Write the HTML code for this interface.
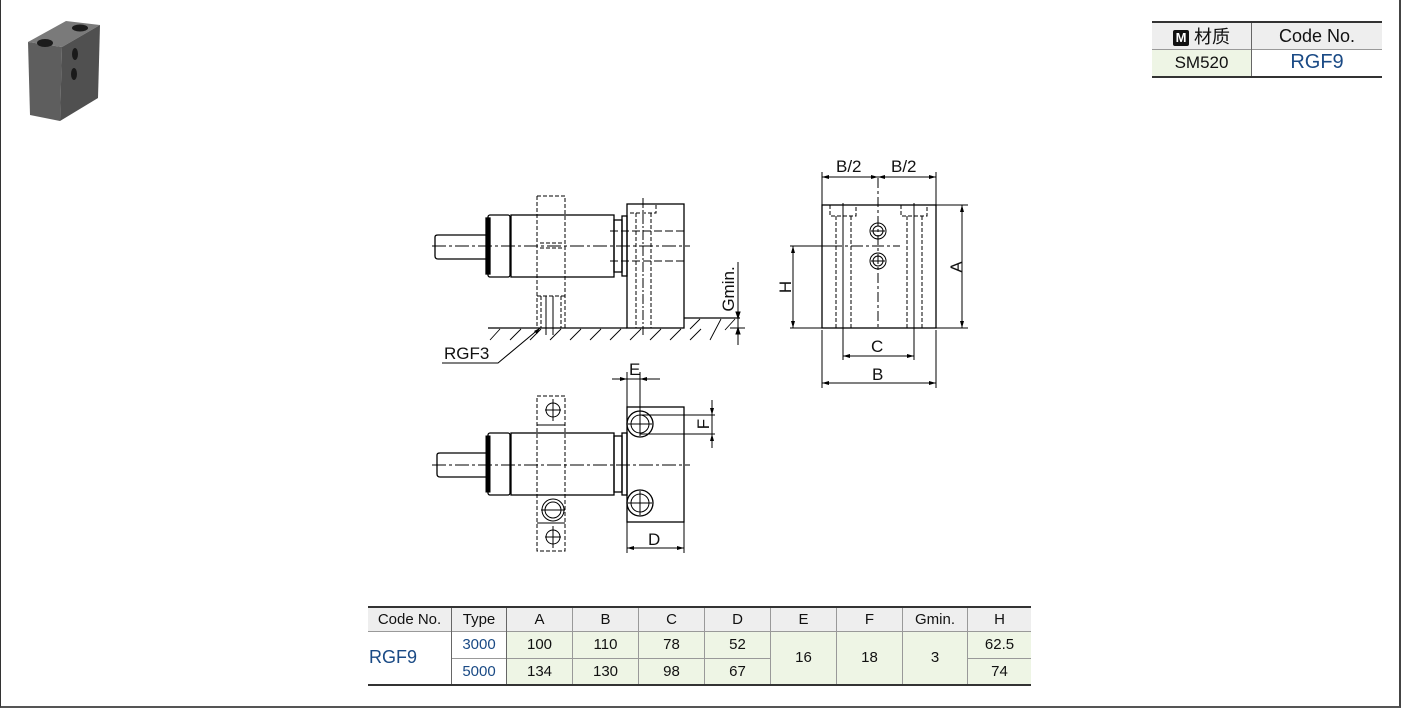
<!DOCTYPE html>
<html><head><meta charset="utf-8"><style>
html,body{margin:0;padding:0;background:#fff;}
body{width:1401px;height:709px;position:relative;overflow:hidden;font-family:"Liberation Sans","Noto Sans CJK SC",sans-serif;}
#frame{position:absolute;left:0;top:0;width:1398px;height:706px;border-left:1px solid #333;border-right:2px solid #444;border-bottom:2px solid #555;}
svg{position:absolute;left:0;top:0;}
table{position:absolute;border-collapse:collapse;font-size:15px;color:#111;}
td{text-align:center;padding:0;}
.g{background:#eef5e5;}
.b{color:#1a4a85;}
</style></head><body>
<div id="frame"></div>

<svg width="1401" height="709" viewBox="0 0 1401 709">
<!-- photo -->
<polygon points="28,42 66,21 100,25 62,47" fill="#7a7a7a"/>
<polygon points="28,42 62,47 60,121 30,115" fill="#5e5e5e"/>
<polygon points="62,47 100,25 98,98 60,121" fill="#505050"/>
<ellipse cx="45" cy="43" rx="8" ry="4" fill="#1c1c1c"/>
<ellipse cx="80" cy="28" rx="8" ry="3.5" fill="#1c1c1c"/>
<ellipse cx="75" cy="54" rx="3" ry="6" fill="#1a1a1a"/>
<ellipse cx="74" cy="74" rx="3" ry="6" fill="#1a1a1a"/>

<g fill="none" stroke="#000" stroke-width="1.3">
<path d="M435,237 Q435,235 438,235 L488,235 L488,259 L438,259 Q435,259 435,256 Z"/>
<rect x="488" y="215" width="22" height="62" rx="2"/>
<rect x="486" y="218" width="4" height="56" fill="#000"/>
<rect x="511" y="215" width="103" height="62"/>
<rect x="614" y="220" width="8" height="52"/>
<rect x="622" y="216" width="5" height="60"/>
<rect x="627" y="204" width="57" height="124"/>
<line x1="488" y1="328" x2="627" y2="328"/>
<line x1="684" y1="318" x2="740" y2="318"/>
</g>
<g fill="none" stroke="#000" stroke-width="1">
<line x1="432" y1="246" x2="690" y2="246" stroke-dasharray="14,3,3,3"/>
<path d="M537,196 H565 V328 M537,196 V328" stroke-dasharray="4,2"/>
<path d="M541,296 V328 M561,296 V328 M537,296 H565" stroke-dasharray="4,2"/>
<path d="M546,296 V335 M553,296 V335" />
<path d="M540,243 H562 M540,248 H562" stroke-dasharray="4,2"/>
<path d="M630,213 H656 V204 M636,213 V328 M651,213 V328" stroke-dasharray="4,2"/>
<path d="M610,231 H684 M610,261 H684" stroke-dasharray="8,3"/>
<line x1="643" y1="198" x2="643" y2="335" stroke-dasharray="10,2,2,2"/>
<g stroke-width="0.9">
<path d="M490,340 L500,329 M510,340 L521,329 M530,340 L541,329 M550,340 L561,329 M570,340 L581,329 M590,340 L601,329 M610,340 L621,329 M630,340 L641,329 M650,340 L661,329 M670,340 L681,329 M690,340 L701,329 M710,340 L721,319 M690,329 L700,319 M725,330 L735,319"/>
</g>
<path d="M442,363 H498 L540,328"/>
<path d="M738,262 V345 M730,328 H745"/>
<path d="M738,318 l-2,-6 h4 z M738,328 l-2,6 h4 z" fill="#000"/>

<rect x="822" y="205" width="114" height="123" stroke-width="1.3"/>
<path d="M830,205 V216 H856 V205 M836,216 V328 M851,216 V328 M901,205 V216 H927 V205 M907,216 V328 M922,216 V328" stroke-dasharray="4,2"/>
<path d="M843,203 V360 M914,203 V360"/>
<line x1="878" y1="178" x2="878" y2="330" stroke-dasharray="10,3,3,3"/>
<circle cx="878" cy="231" r="8"/><circle cx="878" cy="231" r="5"/>
<circle cx="878" cy="261" r="8"/><circle cx="878" cy="261" r="5"/>
<path d="M871,231 H885 M871,261 H885"/>
<path d="M822,172 V205 M936,172 V205 M822,330 V388 M936,330 V388"/>
<path d="M822,177 H936 M843,356 H914 M822,383 H936"/>
<path d="M936,205 H968 M936,328 H968 M962,205 V328"/>
<path d="M790,246 H830 M790,328 H822 M793,246 V328"/>
<line x1="830" y1="246" x2="900" y2="246" stroke-dasharray="12,3,3,3"/>

<path d="M437,455 Q437,453 440,453 L488,453 L488,477 L440,477 Q437,477 437,474 Z" stroke-width="1.3"/>
<rect x="488" y="433" width="22" height="62" rx="2" stroke-width="1.3"/>
<rect x="486" y="436" width="4" height="56" fill="#000"/>
<rect x="511" y="433" width="103" height="62" stroke-width="1.3"/>
<rect x="614" y="436" width="8" height="56" stroke-width="1.3"/>
<rect x="622" y="433" width="5" height="62" stroke-width="1.3"/>
<rect x="627" y="407" width="57" height="115" stroke-width="1.3"/>
<line x1="432" y1="465" x2="690" y2="465" stroke-dasharray="14,3,3,3"/>
<path d="M537,396 H565 V551 H537 Z" stroke-dasharray="4,2"/>
<path d="M537,425 H565 M537,523 H565"/>
<circle cx="553" cy="410" r="7"/><circle cx="553" cy="537" r="7"/>
<circle cx="553" cy="510" r="11"/><circle cx="553" cy="510" r="8"/>
<path d="M553,399 V421 M545,410 H561 M553,526 V548 M545,537 H561 M541,510 H565"/>
<circle cx="640" cy="424" r="13" stroke-width="1.3"/><circle cx="640" cy="424" r="9"/>
<circle cx="640" cy="503" r="13" stroke-width="1.3"/><circle cx="640" cy="503" r="9"/>
<path d="M628,424 H652 M628,503 H652 M640,372 V436 M640,491 V515"/>
<path d="M627,372 V407 M612,379 H660"/>
<path d="M640,415 H715 M640,434 H715 M712,400 V448"/>
<path d="M627,522 V553 M684,522 V553 M627,548 H684"/>
</g>
<g fill="#000">
<path d="M822,177 l7,-2 v4 z M878,177 l-7,-2 v4 z M878,177 l7,-2 v4 z M936,177 l-7,-2 v4 z"/>
<path d="M843,356 l7,-2 v4 z M914,356 l-7,-2 v4 z M822,383 l7,-2 v4 z M936,383 l-7,-2 v4 z"/>
<path d="M962,205 l-2,7 h4 z M962,328 l-2,-7 h4 z M793,246 l-2,7 h4 z M793,328 l-2,-7 h4 z"/>
<path d="M627,379 l-7,-2 v4 z M640,379 l7,-2 v4 z"/>
<path d="M712,415 l-2,-7 h4 z M712,434 l-2,7 h4 z"/>
<path d="M627,548 l7,-2 v4 z M684,548 l-7,-2 v4 z"/>
<path d="M540,328 l-6,3 l3,3 z"/>
</g>
<g font-family="Liberation Sans, sans-serif" font-size="17" fill="#111">
<text x="444" y="359">RGF3</text>
<text x="836" y="172">B/2</text><text x="891" y="172">B/2</text>
<text x="871" y="352">C</text><text x="872" y="380">B</text>
<text x="648" y="545">D</text><text x="629" y="375">E</text>
<text transform="translate(962,267) rotate(-90)" text-anchor="middle">A</text>
<text transform="translate(791,287) rotate(-90)" text-anchor="middle">H</text>
<text transform="translate(709,424) rotate(-90)" text-anchor="middle">F</text>
<text transform="translate(734,289) rotate(-90)" text-anchor="middle">Gmin.</text>
</g>
</svg>

<table style="left:1152px;top:21px;width:230px;border-top:2px solid #333;border-bottom:2px solid #333;font-size:18px;">
<tr style="height:25px;background:#eee;border-bottom:1px solid #999;"><td style="width:99px;border-right:1px solid #666;"><span style="display:inline-block;background:#111;color:#fff;font-weight:bold;font-size:13px;width:16px;height:16px;line-height:16px;border-radius:2px;vertical-align:1px;">M</span> 材质</td><td>Code No.</td></tr>
<tr style="height:27px;"><td class="g" style="border-right:1px solid #666;font-size:17px;">SM520</td><td class="b" style="font-size:20px;">RGF9</td></tr>
</table>

<table style="left:368px;top:606px;width:663px;border-top:2px solid #333;border-bottom:2px solid #333;">
<tr style="height:24px;background:#eee;border-bottom:1px solid #999;">
<td style="width:83px;border-right:1px solid #666;">Code No.</td><td style="width:54px;border-right:1px solid #666;">Type</td>
<td style="width:65px;border-right:1px solid #999;">A</td><td style="width:65px;border-right:1px solid #999;">B</td><td style="width:65px;border-right:1px solid #999;">C</td><td style="width:65px;border-right:1px solid #999;">D</td><td style="width:65px;border-right:1px solid #999;">E</td><td style="width:65px;border-right:1px solid #999;">F</td><td style="width:64px;border-right:1px solid #999;">Gmin.</td><td>H</td></tr>
<tr style="height:27px;border-bottom:1px solid #999;">
<td rowspan="2" class="b" style="border-right:1px solid #666;font-size:18px;text-align:left;padding-left:1px;">RGF9</td>
<td class="b" style="border-right:1px solid #666;">3000</td>
<td class="g" style="border-right:1px solid #999;">100</td><td class="g" style="border-right:1px solid #999;">110</td><td class="g" style="border-right:1px solid #999;">78</td><td class="g" style="border-right:1px solid #999;">52</td>
<td rowspan="2" class="g" style="border-right:1px solid #999;">16</td><td rowspan="2" class="g" style="border-right:1px solid #999;">18</td><td rowspan="2" class="g" style="border-right:1px solid #999;">3</td>
<td class="g">62.5</td></tr>
<tr style="height:27px;">
<td class="b" style="border-right:1px solid #666;">5000</td>
<td class="g" style="border-right:1px solid #999;">134</td><td class="g" style="border-right:1px solid #999;">130</td><td class="g" style="border-right:1px solid #999;">98</td><td class="g" style="border-right:1px solid #999;">67</td>
<td class="g">74</td></tr>
</table>
</body></html>
